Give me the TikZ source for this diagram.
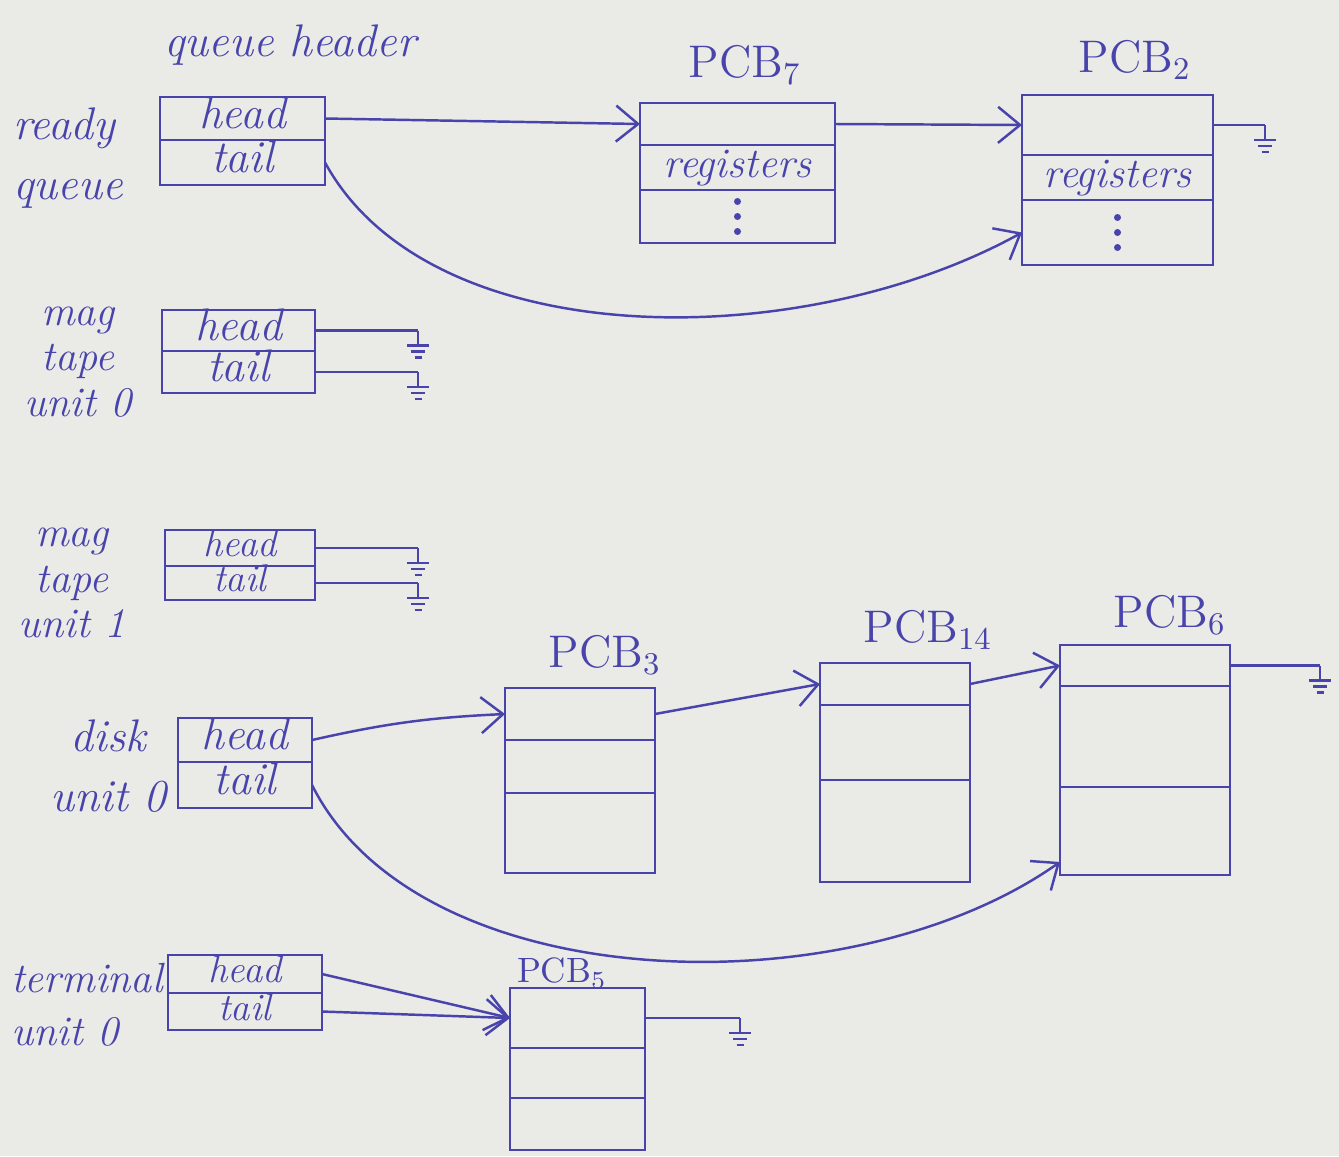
\documentclass[tikz,border=0pt]{standalone}
\usepackage{tikz}
\usetikzlibrary{arrows.meta, positioning}
\definecolor{ink}{RGB}{72,68,172}
\definecolor{paper}{RGB}{234,234,230}

\begin{document}
\begin{tikzpicture}[
  x=0.1mm, y=-0.1mm,
  ink, line width=0.7pt,
  field/.style={draw=ink, inner sep=0pt, outer sep=0pt, minimum width=#1,
                text height=2.6mm, text depth=0.7mm,
                font=\itshape\fontsize{13}{14}\selectfont},
  slim/.style={font=\itshape\fontsize{11}{12}\selectfont, text height=2.2mm, text depth=0.5mm},
  ptr/.style={-{Straight Barb[length=2.2mm, width=3.6mm]}, draw=ink},
  title/.style={font=\fontsize{13}{14}\selectfont, text=ink},
  tag/.style={font=\itshape\fontsize{13}{15}\selectfont, text=ink, inner sep=0pt},
  nilptr/.pic={
    \draw (0,0) -- (0,-1.5mm);
    \draw (-1.1mm,-1.5mm) -- (1.1mm,-1.5mm);
    \draw (-0.7mm,-2.1mm) -- (0.7mm,-2.1mm);
    \draw (-0.35mm,-2.7mm) -- (0.35mm,-2.7mm);
  }
]

\fill[paper] (0,0) rectangle (1339,1156);

%% ── Ready queue ─────────────────────────────────────────────────────
\node[tag] (hdr) at (290,45) {queue header};
\node[field=16.5mm, minimum height=4.3mm, anchor=north west] (readyH) at (160,97) {head};
\node[field=16.5mm, minimum height=4.5mm, below=0pt of readyH] (readyT) {tail};
\node[tag, align=left, anchor=west] (readyL) at (12,158) {ready\\[2pt]queue};

\node[title] (pcb7) at (745,65) {PCB$_7$};
\node[field=19.5mm, minimum height=4.2mm, anchor=north west] (pcb7a) at (640,103) {};
\node[field=19.5mm, minimum height=4.5mm, below=0pt of pcb7a,
  font=\itshape\fontsize{12}{14}\selectfont] (pcb7b) {registers};
\node[field=19.5mm, minimum height=5.3mm, below=0pt of pcb7b] (pcb7c) {};

\node[title] (pcb2) at (1135,60) {PCB$_2$};
\node[field=19.1mm, minimum height=6.0mm, anchor=north west] (pcb2a) at (1022,95) {};
\node[field=19.1mm, minimum height=4.5mm, below=0pt of pcb2a,
  font=\itshape\fontsize{12}{14}\selectfont] (pcb2b) {registers};
\node[field=19.1mm, minimum height=6.5mm, below=0pt of pcb2b] (pcb2c) {};
\coordinate[right=5.2mm of pcb2a.east] (nil2);

% vertical dots in the last field
\foreach \c in {pcb7c, pcb2c}
  \foreach \d in {-1,0,1}
    \fill ([yshift=\d*1.5mm]\c.center) circle (0.35mm);

\draw[ptr] (readyH.east) -- (pcb7a.west);
\draw[ptr] (pcb7a.east) -- (pcb2a.west);
\draw (pcb2a.east) -- (nil2);
\pic at (nil2) {nilptr};
\draw[ptr] (readyT.east) .. controls (430,355) and (800,355) .. (pcb2c.west);

%% ── Mag tape unit 0 ─────────────────────────────────────────────────
\node[field=15.3mm, minimum height=4.1mm, anchor=north west] (tape0H) at (162,310) {head};
\node[field=15.3mm, minimum height=4.2mm, below=0pt of tape0H] (tape0T) {tail};
\node[tag, align=center, font=\itshape\fontsize{12}{13}\selectfont] (tape0L) at (78,362) {mag\\tape\\unit 0};
\coordinate[right=10.3mm of tape0H.east] (nil0h);
\coordinate[right=10.3mm of tape0T.east] (nil0t);
\draw (tape0H.east) -- (nil0h);
\draw (tape0T.east) -- (nil0t);
\pic at (nil0h) {nilptr};
\pic at (nil0t) {nilptr};

%% ── Mag tape unit 1 ─────────────────────────────────────────────────
\node[field=15.0mm, minimum height=3.6mm, anchor=north west, slim] (tape1H) at (165,530) {head};
\node[field=15.0mm, minimum height=3.4mm, below=0pt of tape1H, slim] (tape1T) {tail};
\node[tag, align=center, font=\itshape\fontsize{12}{13}\selectfont] (tape1L) at (72,583) {mag\\tape\\unit 1};
\coordinate[right=10.3mm of tape1H.east] (nil1h);
\coordinate[right=10.3mm of tape1T.east] (nil1t);
\draw (tape1H.east) -- (nil1h);
\draw (tape1T.east) -- (nil1t);
\pic at (nil1h) {nilptr};
\pic at (nil1t) {nilptr};

%% ── Disk unit 0 ─────────────────────────────────────────────────────
\node[field=13.4mm, minimum height=4.4mm, anchor=north west] (diskH) at (178,718) {head};
\node[field=13.4mm, minimum height=4.6mm, below=0pt of diskH] (diskT) {tail};
\node[tag, align=center, anchor=east] (diskL) at (168,766) {disk\\[2pt]unit 0};

\node[title] (pcb3) at (605,655) {PCB$_3$};
\node[field=15mm, minimum height=5.2mm, anchor=north west] (pcb3a) at (505,688) {};
\node[field=15mm, minimum height=5.3mm, below=0pt of pcb3a] (pcb3b) {};
\node[field=15mm, minimum height=8.0mm, below=0pt of pcb3b] (pcb3c) {};

\node[title] (pcb14) at (928,630) {PCB$_{14}$};
\node[field=15mm, minimum height=4.2mm, anchor=north west] (pcb14a) at (820,663) {};
\node[field=15mm, minimum height=7.5mm, below=0pt of pcb14a] (pcb14b) {};
\node[field=15mm, minimum height=10.2mm, below=0pt of pcb14b] (pcb14c) {};

\node[title] (pcb6) at (1170,615) {PCB$_6$};
\node[field=17mm, minimum height=4.1mm, anchor=north west] (pcb6a) at (1060,645) {};
\node[field=17mm, minimum height=10.1mm, below=0pt of pcb6a] (pcb6b) {};
\node[field=17mm, minimum height=8.8mm, below=0pt of pcb6b] (pcb6c) {};
\coordinate[right=9mm of pcb6a.east] (nil6);

\draw[ptr] (diskH.east) to[bend left=5] (pcb3a.west);
\draw[ptr] (pcb3a.east) -- (pcb14a.west);
\draw[ptr] (pcb14a.east) -- (pcb6a.west);
\draw (pcb6a.east) -- (nil6);
\pic at (nil6) {nilptr};
\draw[ptr] (diskT.east) .. controls (420,1000) and (850,1010) .. (pcb6c.200);

%% ── Terminal unit 0 ─────────────────────────────────────────────────
\node[field=15.4mm, minimum height=3.8mm, anchor=north west, slim] (termH) at (168,955) {head};
\node[field=15.4mm, minimum height=3.7mm, below=0pt of termH, slim] (termT) {tail};
\node[tag, align=left, anchor=west, font=\itshape\fontsize{12}{14}\selectfont] (termL) at (10,1005) {terminal\\[1pt]unit 0};

\node[title, font=\fontsize{10}{12}\selectfont] (pcb5) at (562,973) {PCB$_5$};
\node[field=13.5mm, minimum height=6.0mm, anchor=north west] (pcb5a) at (510,988) {};
\node[field=13.5mm, minimum height=5.0mm, below=0pt of pcb5a] (pcb5b) {};
\node[field=13.5mm, minimum height=5.2mm, below=0pt of pcb5b] (pcb5c) {};
\coordinate[right=9.5mm of pcb5a.east] (nil5);

\draw[ptr] (termH.east) -- (pcb5a.west);
\draw[ptr] (termT.east) -- (pcb5a.west);
\draw (pcb5a.east) -- (nil5);
\pic at (nil5) {nilptr};

\end{tikzpicture}
\end{document}
